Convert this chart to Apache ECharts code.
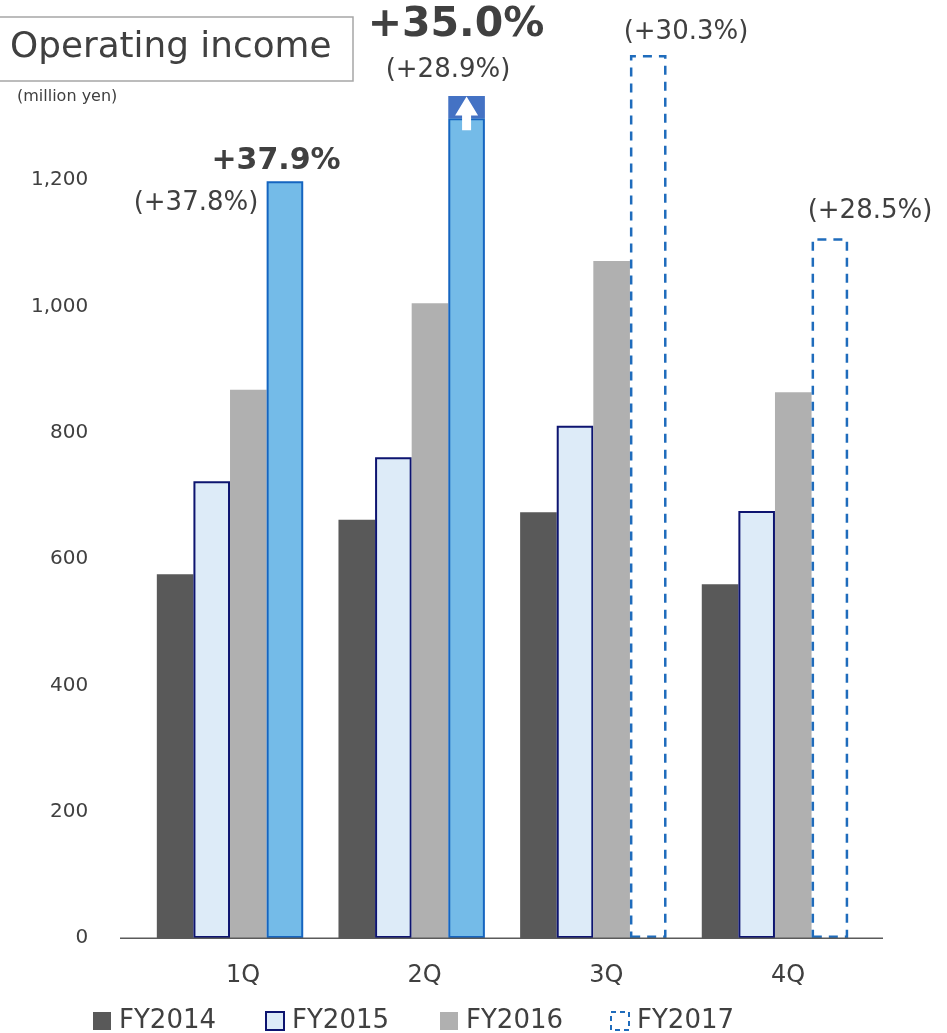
<!DOCTYPE html>
<html>
<head>
<meta charset="utf-8">
<title>Operating income</title>
<script src="https://cdn.jsdelivr.net/npm/echarts@6/dist/echarts.min.js"></script>
<style>
  html, body { margin: 0; padding: 0; background: #ffffff; }
  #chart { width: 947px; height: 1033px; }
</style>
</head>
<body>
<div id="chart"></div>
<script>
// Quarterly operating income, million yen
const quarters = ['1Q', '2Q', '3Q', '4Q'];
const fy2014 = [576, 662, 674, 560];
const fy2015 = [723, 761, 811, 676];
const fy2016 = [868, 1005, 1072, 864];
// FY2017 results (solid) and forecasts (dashed outline)
const fy2017Actual = [1198, 1298, '-', '-'];
const fy2017Upside = ['-', 35, '-', '-'];      // extra on top of 2Q result
const fy2017Plan = ['-', '-', 1398, 1108];
const yTicks = [0, 200, 400, 600, 800, 1000, 1200];
const legendNames = ['FY2014', 'FY2015', 'FY2016', 'FY2017'];

// Year-on-year growth notes
const growthMain = ['+37.9%', '+35.0%', '', ''];
const growthSub = ['(+37.8%)', '(+28.9%)', '(+30.3%)', '(+28.5%)'];

const TEXT = '#404040';
const FONT = "'DejaVu Sans', Verdana, sans-serif";
const BAR_W = 36.6;
const PLAN_BLUE = '#1f6cbc';

const chart = echarts.init(document.getElementById('chart'), null, { renderer: 'canvas' });

// one legend block per fiscal year, laid out along the bottom
const legendLeft = [93, 265, 440, 610];
const legends = legendNames.map((name, i) => ({
  data: [name === 'FY2017'
    ? { name, itemStyle: { color: 'rgba(255,255,255,0)', borderColor: PLAN_BLUE, borderWidth: 2, borderType: [5, 4] } }
    : name],
  left: legendLeft[i],
  top: 1008,
  padding: 0,
  itemWidth: 18,
  itemHeight: 18,
  itemGap: 6,
  icon: 'rect',
  textStyle: { fontFamily: FONT, fontSize: 26, color: TEXT, padding: [0, 0, 0, 3] }
}));

const option = {
  backgroundColor: '#ffffff',
  animation: false,
  textStyle: { fontFamily: FONT, color: TEXT },
  grid: { left: 139.2, right: 81.2, top: 53.7, bottom: 95, containLabel: false },
  legend: legends,
  xAxis: {
    type: 'category',
    data: quarters,
    axisLine: { show: false },
    axisTick: { show: false },
    axisLabel: {
      fontFamily: FONT, fontSize: 24, color: TEXT, margin: 26,
      padding: [0, 0, 0, 26]
    }
  },
  yAxis: {
    type: 'value',
    min: 0,
    max: 1400,
    interval: 200,
    axisLine: { show: false },
    axisTick: { show: false },
    splitLine: { show: false },
    axisLabel: {
      fontFamily: FONT, fontSize: 20, color: TEXT, margin: 51,
      formatter: v => (yTicks.indexOf(v) >= 0 ? v.toLocaleString('en-US') : '')
    }
  },
  series: [
    {
      name: 'FY2014', type: 'bar', data: fy2014, barWidth: BAR_W, barGap: '0%',
      itemStyle: { color: '#595959' }
    },
    {
      name: 'FY2015', type: 'bar', data: fy2015, barWidth: BAR_W, barGap: '0%',
      itemStyle: { color: '#ddebf8', borderColor: '#0d1470', borderWidth: 2 }
    },
    {
      name: 'FY2016', type: 'bar', data: fy2016, barWidth: BAR_W, barGap: '0%',
      itemStyle: { color: '#b0b0b0' }
    },
    {
      name: 'FY2017 results', type: 'bar', stack: 'fy2017', data: fy2017Actual,
      barWidth: BAR_W, barGap: '0%',
      itemStyle: { color: '#74bbe8', borderColor: '#1565c0', borderWidth: 2 }
    },
    {
      name: 'FY2017 upside', type: 'bar', stack: 'fy2017', data: fy2017Upside,
      barWidth: BAR_W, barGap: '0%',
      itemStyle: { color: '#4472c4', borderColor: '#4472c4', borderWidth: 1.5 }
    },
    {
      name: 'FY2017', type: 'bar', stack: 'fy2017', data: fy2017Plan,
      barWidth: BAR_W, barGap: '0%',
      itemStyle: {
        color: 'rgba(255,255,255,0)', borderColor: PLAN_BLUE, borderWidth: 2.5,
        borderType: [9, 7]
      }
    },
    {
      // white arrow drawn over the 2Q upside block
      name: 'arrow', type: 'custom', z: 10, silent: true,
      data: quarters.map((q, i) => fy2017Upside[i] === '-' ? null :
        [q, fy2017Actual[i], fy2017Actual[i] + fy2017Upside[i]]).filter(d => d),
      renderItem: (params, api) => {
        const base = api.coord([api.value(0), api.value(1)]);
        const top = api.coord([api.value(0), api.value(2)]);
        const x = base[0] + 1.5 * BAR_W;
        const tipY = top[1] + 0.5;
        const headY = tipY + 19;
        const tailY = base[1] + 12;
        return {
          type: 'polygon',
          shape: {
            points: [
              [x, tipY], [x + 11.5, headY], [x + 4.5, headY], [x + 4.5, tailY],
              [x - 4.5, tailY], [x - 4.5, headY], [x - 11.5, headY]
            ]
          },
          style: { fill: '#ffffff' }
        };
      }
    }
  ],
  graphic: [
    // base line of the category axis
    {
      type: 'line', shape: { x1: 120, y1: 938.3, x2: 883, y2: 938.3 },
      style: { stroke: '#5a5a5a', lineWidth: 1.5 }, z: 5
    },
    // title box
    {
      type: 'rect', shape: { x: -1, y: 17, width: 354, height: 64 },
      style: { fill: '#ffffff', stroke: '#a6a6a6', lineWidth: 1.5 }
    },
    {
      type: 'text', x: 10, y: 48,
      style: { text: 'Operating income', font: "35.8px 'DejaVu Sans'", fill: TEXT, verticalAlign: 'middle' }
    },
    {
      type: 'text', x: 17, y: 97,
      style: { text: '(million yen)', font: "16px 'DejaVu Sans'", fill: TEXT, verticalAlign: 'middle' }
    },
    // growth notes
    {
      type: 'text', x: 276, y: 161,
      style: { text: growthMain[0], font: "bold 30px 'DejaVu Sans'", fill: TEXT, align: 'center', verticalAlign: 'middle' }
    },
    {
      type: 'text', x: 196, y: 203,
      style: { text: growthSub[0], font: "26px 'DejaVu Sans'", fill: TEXT, align: 'center', verticalAlign: 'middle' }
    },
    {
      type: 'text', x: 456, y: 25,
      style: { text: growthMain[1], font: "bold 41px 'DejaVu Sans'", fill: TEXT, align: 'center', verticalAlign: 'middle' }
    },
    {
      type: 'text', x: 448, y: 70,
      style: { text: growthSub[1], font: "26px 'DejaVu Sans'", fill: TEXT, align: 'center', verticalAlign: 'middle' }
    },
    {
      type: 'text', x: 686, y: 32,
      style: { text: growthSub[2], font: "26px 'DejaVu Sans'", fill: TEXT, align: 'center', verticalAlign: 'middle' }
    },
    {
      type: 'text', x: 870, y: 211,
      style: { text: growthSub[3], font: "26px 'DejaVu Sans'", fill: TEXT, align: 'center', verticalAlign: 'middle' }
    }
  ]
};

chart.setOption(option);
</script>
</body>
</html>
